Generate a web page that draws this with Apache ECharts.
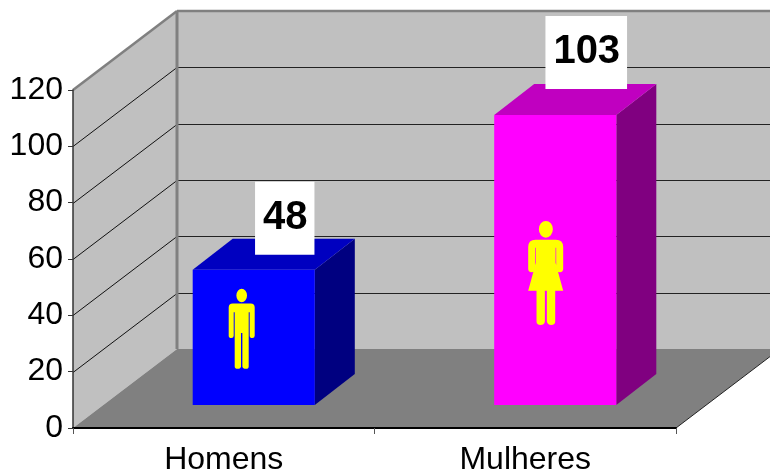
<!DOCTYPE html>
<html>
<head>
<meta charset="utf-8">
<style>
    html, body { margin: 0; padding: 0; background: #fff; }
    #main { width: 770px; height: 472px; }
</style>
<script src="https://cdn.jsdelivr.net/npm/echarts@6/dist/echarts.min.js"></script>
</head>
<body>
<div id="main"></div>
<script>
var categories = ['Homens', 'Mulheres'];
var values = [48, 103];
var yTicks = [20, 40, 60, 80, 100];

var FONT = '"Liberation Sans", Arial, sans-serif';
// depth of the fake 3d box, in pixels
var wallDx = 104, wallDy = -79;
var barShiftX = 30, barShiftY = -23;
var barDx = 40, barDy = -31;

var barColors = [
    { front: '#0000ff', top: '#0000c0', side: '#000080' },
    { front: '#ff00ff', top: '#c000c0', side: '#800080' }
];
var labelOffsets = [[11, -15], [11, -26]];

var manPath = 'M23 20A16 20 0 1 1 55 20A16 20 0 1 1 23 20Z' +
    'M12 44L66 44Q78 44 78 56L78 140Q78 147 71 147Q63 147 63 140L63 70L60 70L60 232Q60 239 52 239Q42 239 41 232L41 132L37 132L37 232Q36 239 27 239Q18 239 18 232L18 70L15 70L15 140Q15 147 8 147Q0 147 0 140L0 56Q0 44 12 44Z';
var womanPath = 'M32 25A21 25 0 1 1 74 25A21 25 0 1 1 32 25Z' +
    'M22 56L83 56Q105 56 105 78L105 143Q105 153 95 153Q84 153 84 143L84 80L82 80L82 125L105 208L81 208L81 300Q81 310 69 310Q58 310 56 300L56 208L50 208L50 300Q49 310 37 310Q25 310 25 300L25 208L0 208L23 125L23 80L21 80L21 143Q21 153 10 153Q0 153 0 143L0 78Q0 56 22 56Z';
// icon box relative to the bar's front face: left, top, width, height
var icons = [
    { path: manPath, box: [36, 19, 26, 80] },
    { path: womanPath, box: [34, 106, 35, 104] }
];

function renderWalls(params, api) {
    var g = params.coordSys;
    var x0 = g.x, x1 = g.x + g.width;
    var y0 = g.y + g.height, yTop = g.y;
    var children = [];
    function poly(points, fill) {
        children.push({ type: 'polygon', shape: { points: points }, style: { fill: fill }, silent: true });
    }
    function line(a, b, color, width) {
        children.push({ type: 'line', shape: { x1: a[0], y1: a[1], x2: b[0], y2: b[1] }, style: { stroke: color, lineWidth: width }, silent: true });
    }
    poly([[x0 + wallDx, yTop + wallDy], [x1 + wallDx, yTop + wallDy], [x1 + wallDx, y0 + wallDy], [x0 + wallDx, y0 + wallDy]], '#c0c0c0');
    poly([[x0, y0], [x0 + wallDx, y0 + wallDy], [x0 + wallDx, yTop + wallDy], [x0, yTop]], '#c0c0c0');
    poly([[x0, y0], [x1, y0], [x1 + wallDx, y0 + wallDy], [x0 + wallDx, y0 + wallDy]], '#808080');
    yTicks.forEach(function (t) {
        var y = Math.round(api.coord([0, t])[1]) + 0.5;
        line([x0, y], [x0 + wallDx, y + wallDy], '#111', 1);
        line([x0 + wallDx, y + wallDy], [x1 + wallDx, y + wallDy], '#222', 1);
    });
    line([x0, yTop], [x0 + wallDx, yTop + wallDy], '#808080', 2.5);
    line([x0 + wallDx, yTop + wallDy], [x1 + wallDx, yTop + wallDy], '#808080', 2.5);
    line([x0 + wallDx, yTop + wallDy], [x0 + wallDx, y0 + wallDy], '#808080', 3);
    line([x1, y0], [x1 + wallDx, y0 + wallDy], '#222', 1);
    return { type: 'group', children: children };
}

function renderBar(params, api) {
    var i = api.value(0), v = api.value(1);
    var c = barColors[i];
    var w = api.size([1, 0])[0] * 0.405;
    var base = api.coord([i, 0]);
    var top = api.coord([i, v]);
    var l = base[0] + barShiftX - w / 2, r = l + w;
    var b = base[1] + barShiftY, t = top[1] + barShiftY;
    var icon = icons[i];
    var off = labelOffsets[i];
    var cx = (l + r) / 2 + barDx / 2 + off[0];
    var boxW = String(v).length * 22.2 + 15;
    var boxBottom = t + off[1];
    return {
        type: 'group',
        children: [
            { type: 'polygon', shape: { points: [[r, b], [r + barDx, b + barDy], [r + barDx, t + barDy], [r, t]] }, style: { fill: c.side } },
            { type: 'polygon', shape: { points: [[l, t], [r, t], [r + barDx, t + barDy], [l + barDx, t + barDy]] }, style: { fill: c.top } },
            { type: 'rect', shape: { x: l, y: t, width: w, height: b - t }, style: { fill: c.front } },
            {
                type: 'path',
                shape: { pathData: icon.path, layout: 'cover', x: l + icon.box[0], y: t + icon.box[1], width: icon.box[2], height: icon.box[3] },
                style: { fill: '#ffff00' }
            },
            { type: 'rect', shape: { x: cx - boxW / 2, y: boxBottom - 73, width: boxW, height: 73 }, style: { fill: '#ffffff' } },
            {
                type: 'text',
                x: cx + 0.5, y: boxBottom - 36.5,
                style: { text: String(v), fill: '#000', font: 'bold 40px ' + FONT, align: 'center', verticalAlign: 'middle' }
            }
        ]
    };
}

var chart = echarts.init(document.getElementById('main'), null, { renderer: 'canvas' });
chart.setOption({
    animation: false,
    backgroundColor: '#ffffff',
    grid: { left: 73, right: 94, top: 90, bottom: 44, outerBoundsMode: 'none' },
    xAxis: {
        type: 'category',
        data: categories,
        z: 6,
        axisLine: { lineStyle: { color: '#000', width: 2 } },
        axisTick: { show: true, length: 6, lineStyle: { color: '#555', width: 1 } },
        axisLabel: { color: '#000', fontFamily: FONT, fontSize: 32, margin: 16 }
    },
    yAxis: {
        type: 'value',
        min: 0,
        max: 120,
        interval: 20,
        z: 6,
        axisLine: { show: true, lineStyle: { color: '#333', width: 1.5 } },
        axisTick: { show: true, length: 5, lineStyle: { color: '#333', width: 1 } },
        splitLine: { show: false },
        axisLabel: { color: '#000', fontFamily: FONT, fontSize: 32, margin: 10 }
    },
    series: [
        { type: 'custom', z: 2, silent: true, renderItem: renderWalls, data: [[0, 0]] },
        { type: 'custom', z: 8, silent: true, renderItem: renderBar, data: values.map(function (v, i) { return [i, v]; }) }
    ]
});
</script>
</body>
</html>
